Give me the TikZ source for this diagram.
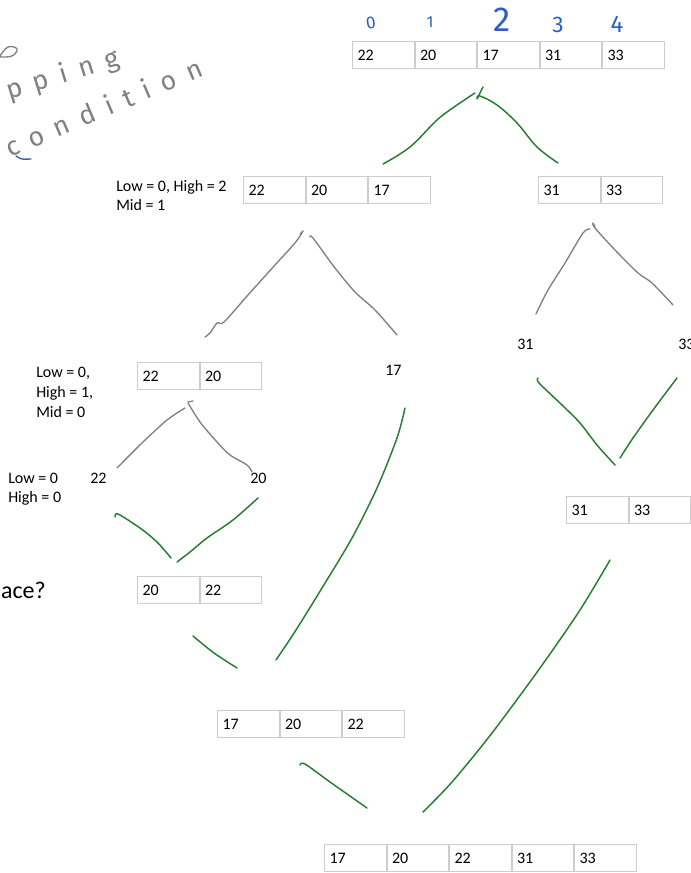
\documentclass[tikz,border=0pt]{standalone}
\usepackage{fontspec}
\setmainfont{Carlito}
\newfontfamily\handfont[LetterSpace=45]{Fira Sans}
\newfontfamily\digitfont{Fira Sans}
\definecolor{inkgreen}{RGB}{40,125,50}
\definecolor{inkgray}{RGB}{128,128,128}
\definecolor{inkblue}{RGB}{45,95,195}
\definecolor{cellline}{RGB}{205,205,205}
\tikzset{
  cell/.style={draw=cellline, line width=0.75pt, minimum height=20.25pt,
    text width=38.625pt, inner xsep=3.75pt, inner ysep=0pt, align=left,
    anchor=west, text height=8.6pt, text depth=1pt,
    font=\fontsize{12pt}{14.5pt}\selectfont},
  lbl/.style={anchor=west, inner sep=0pt, text height=8.6pt, text depth=1pt,
    font=\fontsize{12pt}{14.5pt}\selectfont},
  idx/.style={inner sep=0pt, text=inkblue},
  hand/.style={inner sep=0pt, anchor=base west, text=inkgray,
    font=\handfont\fontsize{20pt}{24pt}\selectfont},
  greenink/.style={draw=inkgreen, line width=1.1pt, line cap=round, line join=round},
  grayink/.style={draw=inkgray, line width=1.0pt, line cap=round, line join=round},
}
\begin{document}
\begin{tikzpicture}[x=0.75pt, y=-0.75pt]
\useasboundingbox (0,0) rectangle (691,873);
\fill[white] (0,0) rectangle (691,873);
\clip (0,0) rectangle (691,873);

% ---------- handwriting top left ----------
\path[grayink] plot[smooth, tension=0.7] coordinates {(0,56) (8,47) (17,49) (12,56) (0,57)};
\node[hand, rotate=17] (hw1) at (9,100) {pping};
\node[hand, rotate=23] (hw2) at (10,158) {condition};
\path[draw=inkblue, line width=1pt, line cap=round] plot[smooth] coordinates {(16,156) (22,159) (31,159)};

% ---------- index digits ----------
\node[idx, font=\digitfont\fontsize{13pt}{15pt}\selectfont, rotate=10] (i0) at (371,23) {0};
\node[idx, font=\digitfont\fontsize{12pt}{14pt}\selectfont] (i1) at (430,22) {1};
\node[idx, font=\digitfont\fontsize{26pt}{30pt}\selectfont] (i2) at (502,20) {2};
\node[idx, font=\digitfont\fontsize{17pt}{20pt}\selectfont] (i3) at (558,25) {3};
\node[idx, font=\digitfont\fontsize{18pt}{21pt}\selectfont] (i4) at (617,24) {4};

% ---------- top array ----------
\node[cell] (a1) at (352,55) {22};
\node[cell] (a2) at (a1.east) {20};
\node[cell] (a3) at (a2.east) {17};
\node[cell] (a4) at (a3.east) {31};
\node[cell] (a5) at (a4.east) {33};

% ---------- level 2 ----------
\node[lbl] (l2a) at (116,186) {Low = 0, High = 2};
\node[lbl] (l2b) at (116,205) {Mid = 1};
\node[cell] (b1) at (243,190) {22};
\node[cell] (b2) at (b1.east) {20};
\node[cell] (b3) at (b2.east) {17};
\node[cell] (c1) at (538,190) {31};
\node[cell] (c2) at (c1.east) {33};

% ---------- level 3 ----------
\node[lbl] (l3a) at (36,372) {Low = 0,};
\node[lbl] (l3b) at (36,392) {High = 1,};
\node[lbl] (l3c) at (36,412) {Mid = 0};
\node[cell] (d1) at (137,376) {22};
\node[cell] (d2) at (d1.east) {20};
\node[lbl] (n17) at (385,370) {17};
\node[lbl] (n31) at (517,344) {31};
\node[lbl] (n33) at (678,344) {33};

% ---------- level 4 ----------
\node[lbl] (l4a) at (8,478) {Low = 0};
\node[lbl] (l4b) at (8,497) {High = 0};
\node[lbl] (n22) at (90,478) {22};
\node[lbl] (n20) at (250,478) {20};

% ---------- level 5 ----------
\node[anchor=east, inner sep=0pt, text height=13pt, text depth=1pt,
  font=\fontsize{18pt}{21pt}\selectfont] (place) at (46,590) {Place?};
\node[cell] (e1) at (137,590) {20};
\node[cell] (e2) at (e1.east) {22};
\node[cell] (f1) at (566,510) {31};
\node[cell] (f2) at (f1.east) {33};

% ---------- level 6 ----------
\node[cell] (g1) at (217,724) {17};
\node[cell] (g2) at (g1.east) {20};
\node[cell] (g3) at (g2.east) {22};

% ---------- final ----------
\node[cell] (h1) at (324,858) {17};
\node[cell] (h2) at (h1.east) {20};
\node[cell] (h3) at (h2.east) {22};
\node[cell] (h4) at (h3.east) {31};
\node[cell] (h5) at (h4.east) {33};

% ---------- green strokes: top split ----------
\path[greenink] plot[smooth, tension=0.6] coordinates {(383,164) (410,147) (437,120) (457,105) (475,93)};
\path[greenink] (477,99) -- (483,87);
\path[greenink] plot[smooth, tension=0.6] coordinates {(477,98) (480,96) (497,105) (517,123) (537,147) (558,163)};

% ---------- gray strokes: level 2 left split ----------
\path[grayink] plot[smooth, tension=0.5] coordinates {(205,337) (210,333) (217,323) (224,322) (248,295) (275,265) (295,243) (303,231)};
\path[grayink] (300,234) -- (303,231);
\path[grayink] plot[smooth, tension=0.5] coordinates {(310,237) (313,238) (335,268) (355,292) (375,310) (397,335)};

% ---------- gray strokes: level 2 right split ----------
\path[grayink] plot[smooth, tension=0.5] coordinates {(536,314) (548,290) (565,263) (583,233) (590,229)};
\path[grayink] plot[smooth, tension=0.5] coordinates {(595,227) (593,223) (595,228) (615,250) (638,273) (652,283) (673,305)};

% ---------- gray strokes: level 3 split ----------
\path[grayink] plot[smooth, tension=0.5] coordinates {(117,468) (143,442) (167,420) (185,408)};
\path[grayink] (188,402) -- (193,401);
\path[grayink] plot[smooth, tension=0.5] coordinates {(188,403) (200,422) (217,442) (230,455) (247,465) (252,472)};

% ---------- green strokes: level 4 merge ----------
\path[greenink] plot[smooth, tension=0.5] coordinates {(115,517) (118,514) (140,528) (157,542) (171,558)};
\path[greenink] plot[smooth, tension=0.5] coordinates {(177,562) (190,552) (207,538) (233,520) (258,498)};

% ---------- green strokes: right merge ----------
\path[greenink] plot[smooth, tension=0.5] coordinates {(538,378) (539,383) (562,405) (580,423) (597,445) (615,465)};
\path[greenink] plot[smooth, tension=0.5] coordinates {(620,458) (633,438) (653,410) (677,378)};

% ---------- green strokes: lower merges ----------
\path[greenink] plot[smooth, tension=0.5] coordinates {(405,408) (397,438) (377,488) (352,538) (322,588) (296,630) (276,660)};
\path[greenink] plot[smooth, tension=0.5] coordinates {(193,636) (214,653) (237,668)};
\path[greenink] plot[smooth, tension=0.5] coordinates {(300,765) (305,764) (330,782) (367,808)};
\path[greenink] plot[smooth, tension=0.5] coordinates {(610,560) (580,610) (540,668) (492,733) (452,782) (423,812)};
\end{tikzpicture}
\end{document}
